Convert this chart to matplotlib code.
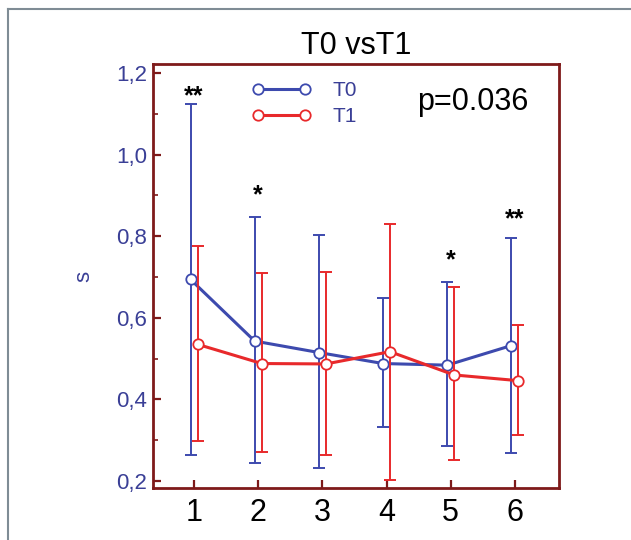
import numpy as np
import matplotlib
matplotlib.use("Agg")
import matplotlib.pyplot as plt
from matplotlib.ticker import MultipleLocator, FixedLocator

plt.rcParams["font.family"] = ["Liberation Sans", "DejaVu Sans"]

# ── Data ─────────────────────────────────────────────
sessions = [1, 2, 3, 4, 5, 6]
t0_mean = [0.694, 0.543, 0.515, 0.488, 0.484, 0.532]
t0_upper = [1.124, 0.848, 0.804, 0.648, 0.688, 0.795]
t0_lower = [0.265, 0.245, 0.231, 0.333, 0.287, 0.269]
t1_mean = [0.535, 0.488, 0.487, 0.517, 0.460, 0.446]
t1_upper = [0.776, 0.711, 0.713, 0.830, 0.675, 0.582]
t1_lower = [0.299, 0.272, 0.264, 0.202, 0.251, 0.314]
star_x = [1, 2, 5, 6]
star_y = [1.142, 0.900, 0.740, 0.842]
star_txt = ["**", "*", "*", "**"]
p_text = "p=0.036"

BLUE = "#3d4aae"
RED = "#e8292b"
DARK_RED = "#7e1a1a"
TICK_BLUE = "#3a3f96"

fig = plt.figure(figsize=(6.31, 5.40), dpi=100)
ax = fig.add_axes([0.2425, 0.0963, 0.6435, 0.7852])

# outer gray frame (only top and left edges visible in the reference)
fig.add_artist(plt.Line2D([0.012, 1.0], [0.983, 0.983], transform=fig.transFigure,
                          color="#7f8c95", lw=1.5))
fig.add_artist(plt.Line2D([0.013, 0.013], [0.0, 0.983], transform=fig.transFigure,
                          color="#7f8c95", lw=1.5))

x = np.array(sessions, dtype=float)
off = 0.055


def draw(xs, mean, lo, hi, color, label, z):
    mean = np.array(mean)
    yerr = [mean - np.array(lo), np.array(hi) - mean]
    ax.errorbar(xs, mean, yerr=yerr, fmt="none", ecolor=color, elinewidth=1.4,
                capsize=4, capthick=1.4, zorder=z)
    ax.plot(xs, mean, "-o", color=color, lw=2.2, markersize=7.5,
            markerfacecolor="white", markeredgecolor=color, markeredgewidth=1.3,
            label=label, zorder=z + 1)


draw(x - off, t0_mean, t0_lower, t0_upper, BLUE, "T0", 3)
draw(x + off, t1_mean, t1_lower, t1_upper, RED, "T1", 5)

for sx, sy, st in zip(star_x, star_y, star_txt):
    ax.text(sx, sy, st, ha="center", va="center", fontsize=18, color="black",
            fontweight="bold")

ax.text(0.788, 0.91, p_text, transform=ax.transAxes, ha="center", va="center",
        fontsize=22, color="black")

ax.set_xlim(0.36, 6.69)
ax.set_ylim(0.183, 1.222)
ax.xaxis.set_major_locator(FixedLocator(sessions))
ax.yaxis.set_major_locator(MultipleLocator(0.2))
ax.yaxis.set_minor_locator(MultipleLocator(0.1))
ax.yaxis.set_major_formatter(plt.FuncFormatter(lambda v, p: f"{v:.1f}".replace(".", ",")))

ax.tick_params(axis="y", which="major", direction="in", length=6, width=1.6,
               color=DARK_RED, labelcolor=TICK_BLUE, labelsize=16, pad=4)
ax.tick_params(axis="y", which="minor", direction="in", length=3.5, width=1.2,
               color=DARK_RED)
ax.tick_params(axis="x", which="major", direction="in", length=6, width=1.6,
               color=DARK_RED, labelcolor="black", labelsize=22, pad=7)
for s in ax.spines.values():
    s.set_color(DARK_RED)
    s.set_linewidth(2.0)

ax.set_ylabel("s", color=TICK_BLUE, fontsize=16, labelpad=16)
ax.set_title("T0 vsT1", fontsize=22, color="black", pad=7)

ax.legend(loc="upper left", bbox_to_anchor=(0.244, 0.960), frameon=False,
          borderpad=0, borderaxespad=0, numpoints=2, handlelength=2.86,
          handletextpad=1.0, labelspacing=0.35, fontsize=15, labelcolor=TICK_BLUE)

fig.savefig("out.png", dpi=100)
